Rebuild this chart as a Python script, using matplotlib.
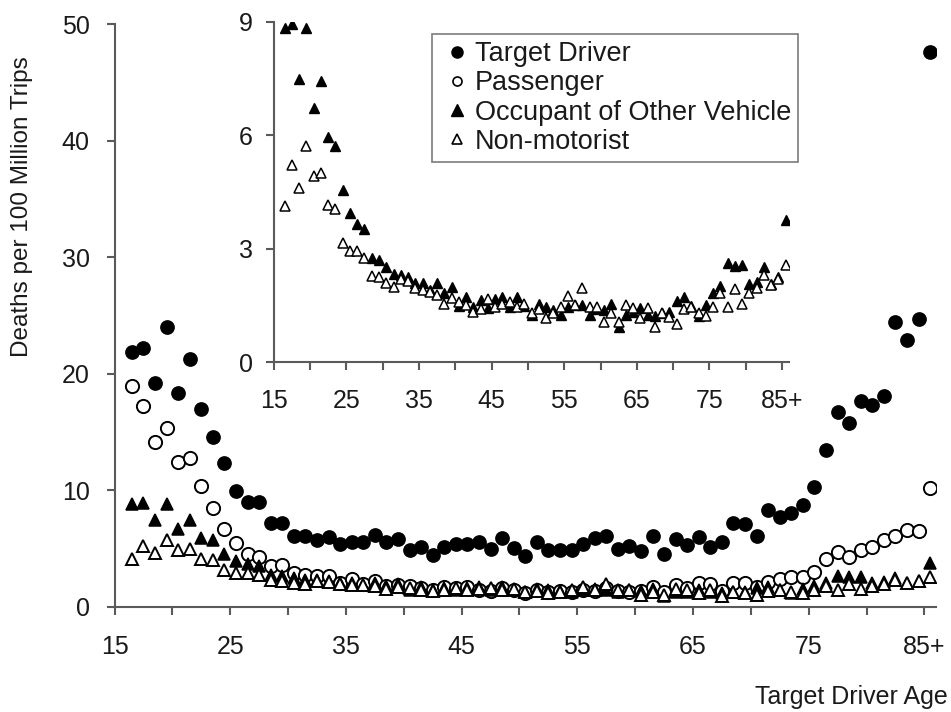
"""
Deaths per 100 million trips by target driver age, with an inset zooming in
on occupants of other vehicles and non-motorists.
"""

import matplotlib.pyplot as plt
import numpy as np
from matplotlib.lines import Line2D

plt.rcParams["font.family"] = ["Liberation Sans", "DejaVu Sans"]

# ---- data ----------------------------------------------------------------
ages = list(range(16, 86))  # last category is "85+"

driver = [21.9, 22.2, 19.25, 24.0, 18.4, 21.3, 17.0, 14.6, 12.4, 9.96,
          9.0, 9.0, 7.24, 7.24, 6.1, 6.1, 5.75, 5.98, 5.38, 5.55,
          5.55, 6.18, 5.6, 5.8, 4.9, 5.18, 4.43, 5.18, 5.4, 5.4,
          5.6, 4.95, 5.9, 5.03, 4.38, 5.55, 4.9, 4.9, 4.9, 5.4,
          5.9, 6.1, 4.95, 5.27, 4.84, 6.12, 4.55, 5.84, 5.32, 6.04,
          5.18, 5.55, 7.18, 7.1, 6.12, 8.33, 7.75, 8.04, 8.76, 10.27,
          13.48, 16.77, 15.77, 17.71, 17.34, 18.14, 24.5, 22.9, 24.7, 47.6]

passenger = [19.0, 17.25, 14.2, 15.4, 12.45, 12.8, 10.4, 8.5, 6.67, 5.52,
             4.55, 4.26, 3.55, 3.63, 2.9, 2.78, 2.66, 2.7, 2.1, 2.4,
             2.0, 2.2, 1.8, 1.9, 1.8, 1.6, 1.5, 1.7, 1.6, 1.7,
             1.5, 1.4, 1.6, 1.5, 1.2, 1.5, 1.3, 1.4, 1.3, 1.5,
             1.4, 1.6, 1.4, 1.3, 1.4, 1.75, 1.3, 1.9, 1.6, 2.03,
             1.95, 1.4, 2.03, 2.03, 1.75, 2.17, 2.4, 2.6, 2.6, 3.03,
             4.09, 4.75, 4.27, 4.9, 5.18, 5.75, 6.1, 6.6, 6.52, 10.2]

occupant = [8.83, 8.94, 7.48, 8.83, 6.71, 7.43, 5.95, 5.72, 4.55, 3.94,
            3.65, 3.51, 2.75, 2.69, 2.51, 2.33, 2.31, 2.25, 2.09, 2.1,
            1.9, 2.1, 1.84, 2.0, 1.49, 1.73, 1.45, 1.65, 1.43, 1.66,
            1.72, 1.45, 1.73, 1.49, 1.25, 1.55, 1.46, 1.38, 1.25, 1.45,
            1.52, 1.5, 1.25, 1.42, 1.38, 1.55, 0.92, 1.25, 1.32, 1.43,
            1.25, 1.21, 1.29, 1.32, 1.63, 1.73, 1.49, 1.21, 1.51, 1.82,
            2.02, 2.63, 2.55, 2.57, 2.07, 2.13, 2.51, 2.07, 2.26, 3.76]

nonmotorist = [4.13, 5.21, 4.6, 5.72, 4.92, 4.99, 4.16, 4.04, 3.16, 2.95,
               2.95, 2.75, 2.28, 2.25, 2.1, 2.0, 2.2, 2.15, 1.95, 1.9,
               1.85, 1.78, 1.54, 1.71, 1.6, 1.5, 1.34, 1.42, 1.66, 1.45,
               1.55, 1.6, 1.45, 1.55, 1.3, 1.4, 1.16, 1.3, 1.47, 1.75,
               1.5, 1.96, 1.47, 1.47, 1.07, 1.3, 1.07, 1.51, 1.43, 1.16,
               1.43, 0.94, 1.3, 1.2, 1.01, 1.4, 1.47, 1.3, 1.21, 1.47,
               1.84, 1.45, 1.93, 1.54, 1.82, 1.96, 2.31, 2.05, 2.2, 2.57]

age_ticks = [15, 20, 25, 30, 35, 40, 45, 50, 55, 60, 65, 70, 75, 80, 85]
age_labels = ["15", "", "25", "", "35", "", "45", "", "55", "", "65", "", "75", "", "85+"]
main_yticks = [0, 10, 20, 30, 40, 50]
inset_yticks = [0, 3, 6, 9]

AXIS_GREY = "#5a5a5a"
TEXT = "#1a1a1a"

# each age is drawn in the middle of its year slot
x = np.array(ages) + 0.5


def style_axes(ax, yticks, xpad, ypad):
    for side in ("top", "right"):
        ax.spines[side].set_visible(False)
    for side in ("left", "bottom"):
        ax.spines[side].set_color(AXIS_GREY)
        ax.spines[side].set_linewidth(1.5)
    ax.set_xlim(15, 86)
    ax.set_xticks(age_ticks)
    ax.set_xticklabels(age_labels)
    ax.set_yticks(yticks)
    ax.set_ylim(yticks[0], yticks[-1])
    ax.tick_params(direction="out", length=6, width=1.5, color=AXIS_GREY,
                   labelsize=18, labelcolor=TEXT)
    ax.tick_params(axis="x", pad=xpad)
    ax.tick_params(axis="y", pad=ypad)


fig = plt.figure(figsize=(9.51, 7.12), dpi=100)

# main panel
ax = fig.add_axes([0.1204, 0.1475, 0.8638, 0.8181])
ax.plot(x, driver, "o", ms=9.5, mfc="black", mec="black", mew=1.1, zorder=3)
ax.plot(x, passenger, "o", ms=9.5, mfc="white", mec="black", mew=1.4, zorder=3)
ax.plot(x, occupant, "^", ms=9, mfc="black", mec="black", mew=1.1, zorder=3)
ax.plot(x, nonmotorist, "^", ms=9, mfc="white", mec="black", mew=1.4, zorder=3)
style_axes(ax, main_yticks, xpad=14, ypad=12)

# inset: the two low series on their own scale
inset = fig.add_axes([0.2878, 0.4912, 0.5422, 0.4784])
inset.set_facecolor("none")
inset.plot(x, occupant, "^", ms=7, mfc="black", mec="black", mew=1.0, zorder=3)
inset.plot(x, nonmotorist, "^", ms=7, mfc="white", mec="black", mew=1.1, zorder=3)
style_axes(inset, inset_yticks, xpad=13, ypad=9)

fig.text(0.023, (712 - 357) / 712, "Deaths per 100 Million Trips", rotation=90,
         ha="center", va="bottom", fontsize=17.5, color=TEXT)
fig.text(948 / 951, 0.021, "Target Driver Age", ha="right", va="center",
         fontsize=18, color=TEXT)

legend_handles = [
    Line2D([0], [0], ls="none", marker="o", ms=8, mfc="black", mec="black"),
    Line2D([0], [0], ls="none", marker="o", ms=6.5, mfc="white", mec="black", mew=1.2),
    Line2D([0], [0], ls="none", marker="^", ms=8, mfc="black", mec="black"),
    Line2D([0], [0], ls="none", marker="^", ms=7, mfc="white", mec="black", mew=1.2),
]
legend_labels = ["Target Driver", "Passenger", "Occupant of Other Vehicle", "Non-motorist"]
leg = fig.legend(legend_handles, legend_labels, loc="upper left",
                 bbox_to_anchor=(432 / 951, 1 - 34 / 712), frameon=True, fancybox=False,
                 edgecolor=AXIS_GREY, fontsize=19.5, labelspacing=0.12, handlelength=1.32,
                 handletextpad=0.0, borderpad=0.26, borderaxespad=0)
leg.get_frame().set_linewidth(1.2)
for txt in leg.get_texts():
    txt.set_color(TEXT)

fig.savefig("out.png", dpi=100)
